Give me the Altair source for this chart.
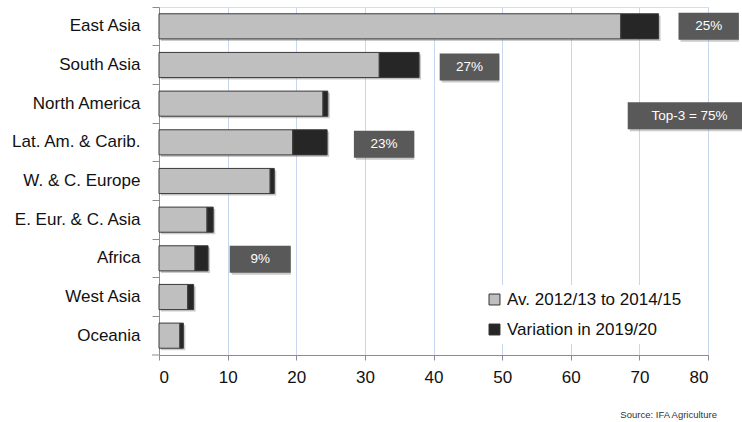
import altair as alt
import pandas as pd

# Fertilizer use by region (Mt nutrients): three-year average and change by 2019/20
regions = [
    "East Asia", "South Asia", "North America", "Lat. Am. & Carib.",
    "W. & C. Europe", "E. Eur. & C. Asia", "Africa", "West Asia", "Oceania",
]
avg_2012_2015 = [67.3, 32.1, 23.9, 19.5, 16.2, 7.0, 5.25, 4.2, 3.05]
variation_2019 = [5.5, 5.8, 0.7, 5.0, 0.6, 0.9, 1.9, 0.85, 0.5]
series_names = ["Av. 2012/13 to 2014/15", "Variation in 2019/20"]

# Share-of-growth callouts
callout_text = ["25%", "27%", "Top-3 = 75%", "23%", "9%"]
callout_row = ["East Asia", "South Asia", "North America", "Lat. Am. & Carib.", "Africa"]
callout_from = [75.7, 40.9, 68.3, 28.4, 10.3]
callout_to = [84.5, 49.6, 86.3, 37.2, 19.2]
callout_shift = [0, 2, 12, 2, 1]

FONT = "Liberation Sans"
GREY = "#bfbfbf"
DARK = "#262626"
BOX = "#595959"

long_rows = []
for i, r in enumerate(regions):
    long_rows.append({"region": r, "series": series_names[0], "value": avg_2012_2015[i], "k": 0})
    long_rows.append({"region": r, "series": series_names[1], "value": variation_2019[i], "k": 1})
bars_df = pd.DataFrame(long_rows)
totals_df = pd.DataFrame({
    "region": regions,
    "total": [a + b for a, b in zip(avg_2012_2015, variation_2019)],
})

y_enc = alt.Y(
    "region:N", sort=regions, title=None,
    scale=alt.Scale(paddingInner=0, paddingOuter=0),
    axis=alt.Axis(
        bandPosition=0, labelFont=FONT, labelFontSize=17, labelColor="#111111",
        labelPadding=12, tickSize=7, tickColor="#8c8c8c", domainColor="#8c8c8c",
        grid=False, labelLimit=200,
    ),
)
x_scale = alt.Scale(domain=[0, 80], nice=False)

bar_height = alt.RelativeBandSize(0.65)

shadow = alt.Chart(totals_df).mark_bar(
    height=bar_height, color="#8a8a8a", opacity=0.45, xOffset=2, yOffset=2
).encode(
    x=alt.X("total:Q", scale=x_scale, title=None,
            axis=alt.Axis(
                values=list(range(0, 81, 10)), labelFont=FONT, labelFontSize=17,
                labelColor="#111111", tickSize=5, tickColor="#8c8c8c",
                domainColor="#8c8c8c", labelPadding=9,
                grid=True, gridColor="#c8d6ee", gridWidth=1,
            )),
    y=y_enc,
)

bars = alt.Chart(bars_df).mark_bar(
    height=bar_height, stroke="#3a3a3a", strokeWidth=1
).encode(
    x=alt.X("value:Q", stack="zero", scale=x_scale),
    y=y_enc,
    color=alt.Color(
        "series:N",
        scale=alt.Scale(domain=series_names, range=[GREY, DARK]),
        legend=alt.Legend(
            orient="none", legendX=321, legendY=278, title=None,
            labelFont=FONT, labelFontSize=17, labelColor="#111111", labelLimit=300,
            symbolType="square", symbolSize=120, symbolStrokeColor="#333333",
            symbolStrokeWidth=1, fillColor="white", padding=6, rowPadding=12,
            labelOffset=4,
        ),
    ),
    order=alt.Order("k:Q"),
)

layers = [shadow, bars]

callouts_df = pd.DataFrame({
    "text": callout_text, "region": callout_row,
    "x0": callout_from, "x1": callout_to,
    "xc": [(a + b) / 2 for a, b in zip(callout_from, callout_to)],
    "shift": callout_shift,
})

for i in range(len(callout_text)):
    one = callouts_df.iloc[[i]]
    s = callout_shift[i]
    box_shadow = alt.Chart(one).mark_bar(
        height=27, color="#8a8a8a", opacity=0.45, xOffset=2, yOffset=s + 2
    ).encode(x=alt.X("x0:Q", scale=x_scale), x2="x1:Q", y=y_enc)
    box = alt.Chart(one).mark_bar(
        height=27, color=BOX, yOffset=s
    ).encode(x=alt.X("x0:Q", scale=x_scale), x2="x1:Q", y=y_enc)
    label = alt.Chart(one).mark_text(
        font=FONT, fontSize=13.5, color="white", baseline="middle", align="center", dy=s
    ).encode(x=alt.X("xc:Q", scale=x_scale), y=y_enc, text="text:N")
    layers += [box_shadow, box, label]

# Closing tick at the bottom-left corner of the axes
corner = alt.Chart(totals_df.head(1)).mark_rule(color="#8c8c8c").encode(
    x=alt.value(-7), x2=alt.value(0), y=alt.value(348)
)
source = alt.Chart(totals_df.head(1)).mark_text(
    font=FONT, fontSize=9.5, color="#333333", align="right", baseline="middle"
).encode(x=alt.value(558), y=alt.value(408), text=alt.value("Source: IFA Agriculture"))
layers += [corner, source]

chart = alt.layer(*layers).properties(
    width=549, height=348,
    autosize=alt.AutoSizeParams(type="none"),
    padding={"left": 159, "top": 7, "right": 34, "bottom": 67},
).configure_view(stroke=None).configure(background="white")

chart.save("out.html", embed_options={"renderer": "svg", "actions": False})
